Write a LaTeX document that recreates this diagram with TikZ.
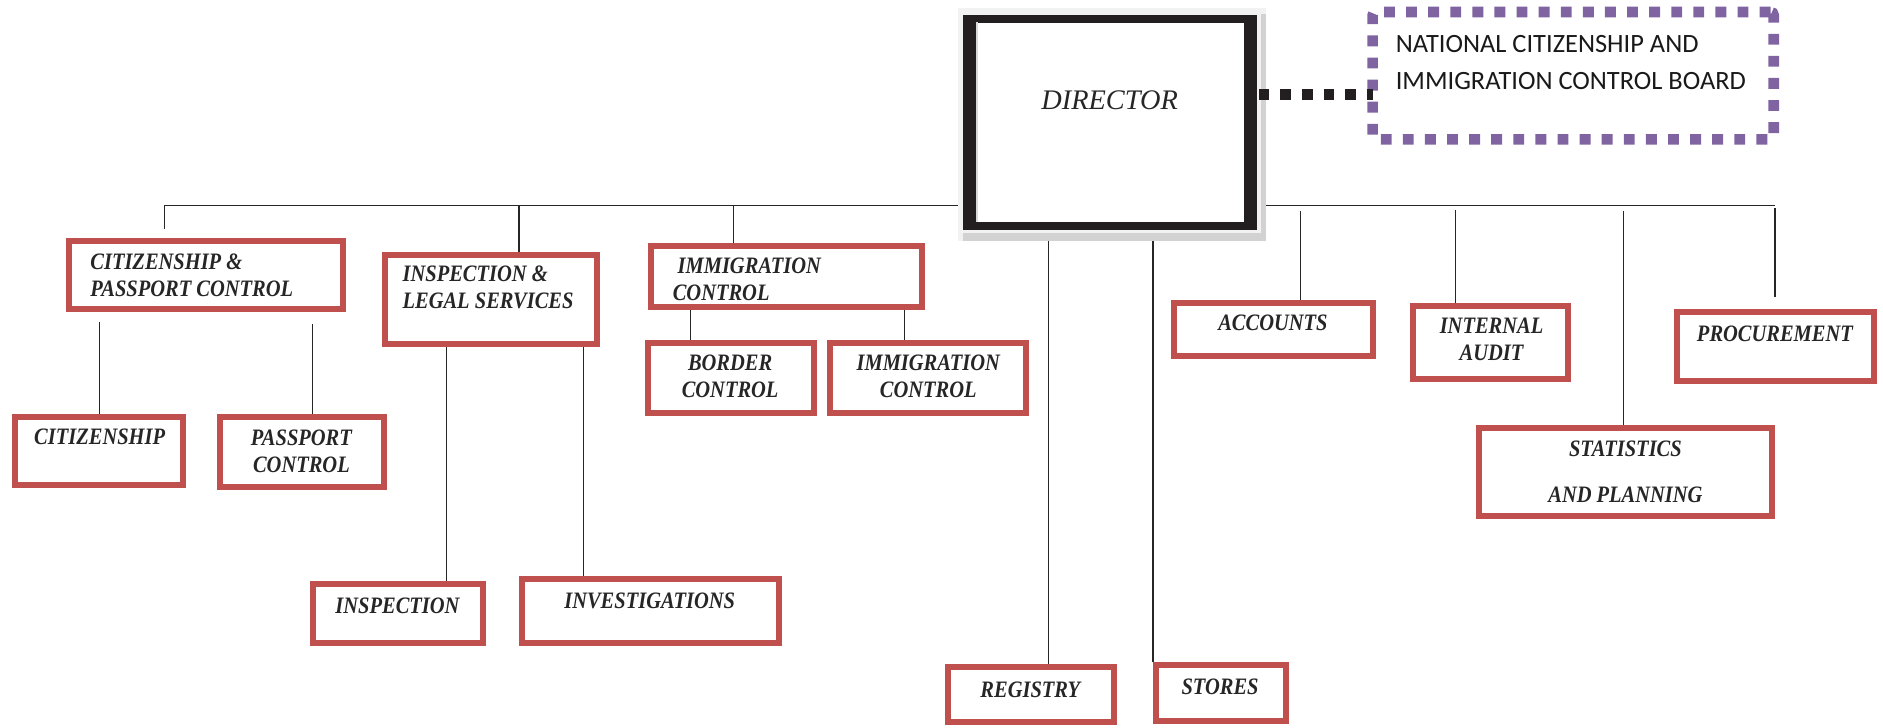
\documentclass[tikz,border=0pt]{standalone}
\usepackage{fontspec}
\setmainfont{Liberation Serif}
\newfontfamily\unitfont[FakeStretch=0.87]{Liberation Serif}
\newfontfamily\dirfont{Liberation Serif}
\newfontfamily\boardfont{Carlito}
\usetikzlibrary{fit,backgrounds}
\definecolor{unitred}{HTML}{C0504D}
\definecolor{boardpurple}{HTML}{8064A2}
\definecolor{dirblack}{HTML}{231F20}

\tikzset{
  unit/.style={draw=unitred, line width=3.75pt, fill=white, inner sep=0pt},
  unittext/.style={inner sep=0pt, text=black!85, font=\unitfont\bfseries\itshape\fontsize{14.7pt}{16.8pt}\selectfont},
  link/.style={draw=black!85, line width=0.9pt},
}

\begin{document}
\begin{tikzpicture}[x=0.75pt,y=0.75pt,yscale=-1,xscale=1]
        \useasboundingbox (0,0) rectangle (1568,606);

        %Shape: shadow of director box
        \fill [gray!10] (798,7) rectangle (1054,201);
        \fill [gray!35] (1050,12) rectangle (1054,201);
        \fill [gray!35] (802,194) rectangle (1054,201);
        %Shape: Rectangle [id:dir]
        \node [fill=dirblack, inner sep=0pt, fit={(802,12.5) (1047,191.5)}] (dir) {};
        \node [fill=white, inner sep=0pt, fit={(813,19) (1036,185)}] (dir-in) {};
        \draw [gray!30, line width=1pt] (dir-in.north west) ++(1,0) -- ([xshift=0.75pt]dir-in.south west);
        % Text Node
        \node [anchor=base, inner sep=0pt, text=black!85, font=\dirfont\itshape\fontsize{17.7pt}{21pt}\selectfont] (dir-t) at (924,91.6) {DIRECTOR};

        %Shape: Rectangle [id:nat]
        \node [draw=boardpurple, line width=6.6pt, dash pattern={on 6.8pt off 7pt}, rounded corners=2pt, inner sep=0pt, fit={(1143,10) (1477,116)}] (nat) {};
        % Text Node
        \node [anchor=north west, inner sep=0pt, align=left, text=black!90, font=\boardfont\fontsize{16.5pt}{23.3pt}\selectfont] (nat-t) at (1162,29) {NATIONAL CITIZENSHIP AND\\IMMIGRATION CONTROL BOARD};

        %Shape: Rectangle [id:cpc]
        \node [unit, fit={(57.5,200.5) (285.5,257.5)}] (cpc) {};
        \node [unittext, anchor=north west, align=left] (cpc-t) at (75,211.5) {CITIZENSHIP \&\\PASSPORT CONTROL};
        %Shape: Rectangle [id:cit]
        \node [unit, fit={(12.5,347.5) (152.5,403.5)}] (cit) {};
        \node [unittext, anchor=base] (cit-t) at (83,370.5) {CITIZENSHIP};
        %Shape: Rectangle [id:pas]
        \node [unit, fit={(183.5,347.5) (319.5,405.5)}] (pas) {};
        \node [unittext, anchor=north, align=center] (pas-t) at (251,357.5) {PASSPORT\\CONTROL};

        %Shape: Rectangle [id:ils]
        \node [unit, fit={(320.5,212.5) (497.5,286.5)}] (ils) {};
        \node [unittext, anchor=north west, align=left] (ils-t) at (335,221.5) {INSPECTION \&\\LEGAL SERVICES};
        %Shape: Rectangle [id:ins]
        \node [unit, fit={(260.5,486.5) (402.5,535.5)}] (ins) {};
        \node [unittext, anchor=base] (ins-t) at (331,510.5) {INSPECTION};
        %Shape: Rectangle [id:inv]
        \node [unit, fit={(434.5,482.5) (648.5,535.5)}] (inv) {};
        \node [unittext, anchor=base] (inv-t) at (541,506.5) {INVESTIGATIONS};

        %Shape: Rectangle [id:imc]
        \node [unit, fit={(542.5,204.5) (767.5,255.5)}] (imc) {};
        \node [unittext, anchor=north west, align=left] (imc-t) at (560,214.5) {\hspace{3pt}IMMIGRATION\\CONTROL};
        %Shape: Rectangle [id:bor]
        \node [unit, fit={(539.5,285.5) (677.5,343.5)}] (bor) {};
        \node [unittext, anchor=north, align=center] (bor-t) at (608,295.5) {BORDER\\CONTROL};
        %Shape: Rectangle [id:imm]
        \node [unit, fit={(691.5,285.5) (854.5,343.5)}] (imm) {};
        \node [unittext, anchor=north, align=center] (imm-t) at (773,295.5) {IMMIGRATION\\CONTROL};

        %Shape: Rectangle [id:reg]
        \node [unit, fit={(789.5,555.5) (927.5,601.5)}] (reg) {};
        \node [unittext, anchor=base] (reg-t) at (858,580.5) {REGISTRY};
        %Shape: Rectangle [id:sto]
        \node [unit, fit={(962.5,553.5) (1070.5,600.5)}] (sto) {};
        \node [unittext, anchor=base] (sto-t) at (1016,578.5) {STORES};

        %Shape: Rectangle [id:acc]
        \node [unit, fit={(977.5,252.5) (1143.5,296.5)}] (acc) {};
        \node [unittext, anchor=base] (acc-t) at (1060,275.5) {ACCOUNTS};
        %Shape: Rectangle [id:aud]
        \node [unit, fit={(1176.5,254.5) (1305.5,315.5)}] (aud) {};
        \node [unittext, anchor=north, align=center] (aud-t) at (1242,264.5) {INTERNAL\\AUDIT};
        %Shape: Rectangle [id:pro]
        \node [unit, fit={(1396.5,259.5) (1560.5,317.5)}] (pro) {};
        \node [unittext, anchor=base] (pro-t) at (1478,284.5) {PROCUREMENT};
        %Shape: Rectangle [id:sta]
        \node [unit, fit={(1231.5,356.5) (1475.5,429.5)}] (sta) {};
        \node [unittext, anchor=north, align=center] (sta-t) at (1353.5,366.5) {STATISTICS\\[12pt]AND PLANNING};

        %Straight Lines: dotted link to the board
        \coordinate (b-in) at (1143,79);
        \draw [dirblack, line width=7pt, dash pattern={on 6.6pt off 6.9pt}, shorten <=0.75pt] (b-in -| dir.east) -- (b-in);

        \begin{scope}[on background layer]
        %Straight Lines: main bus
        \coordinate (busL) at (137,171);
        \coordinate (busR) at (1478,171);
        \draw [link] (busL) -- (busR);
        %Straight Lines: bus to units
        \coordinate (t-ils) at (432,171);
        \coordinate (t-imc) at (611,171);
        \coordinate (t-acc) at (1083,176);
        \coordinate (t-aud) at (1212,175);
        \coordinate (t-sta) at (1352,176);
        \coordinate (t-pro) at (1478,173);
        \draw [link, shorten >=5.6pt] (busL) -- (busL |- cpc.north);
        \draw [link] (t-ils) -- (t-ils |- ils.north);
        \draw [link] (t-imc) -- (t-imc |- imc.north);
        \draw [link] (t-acc) -- (t-acc |- acc.north);
        \draw [link] (t-aud) -- (t-aud |- aud.north);
        \draw [link] (t-sta) -- (t-sta |- sta.north);
        \draw [link, shorten >=7pt] (t-pro) -- (t-pro |- pro.north);
        %Straight Lines: units to sections
        \coordinate (d-cit) at (83,268);
        \coordinate (d-pas) at (260,270);
        \coordinate (d-ins) at (372,289);
        \coordinate (d-inv) at (486,289);
        \coordinate (d-bor) at (575,258);
        \coordinate (d-imm) at (753,258);
        \coordinate (d-reg) at (873,201);
        \coordinate (d-sto) at (960,201);
        \draw [link] (d-cit) -- (d-cit |- cit.north);
        \draw [link] (d-pas) -- (d-pas |- pas.north);
        \draw [link] (d-ins) -- (d-ins |- ins.north);
        \draw [link] (d-inv) -- (d-inv |- inv.north);
        \draw [link] (d-bor) -- (d-bor |- bor.north);
        \draw [link] (d-imm) -- (d-imm |- imm.north);
        \draw [link] (d-reg) -- (d-reg |- reg.north);
        \draw [link] (d-sto) -- (d-sto |- sto.north);
        \end{scope}

\end{tikzpicture}
\end{document}
